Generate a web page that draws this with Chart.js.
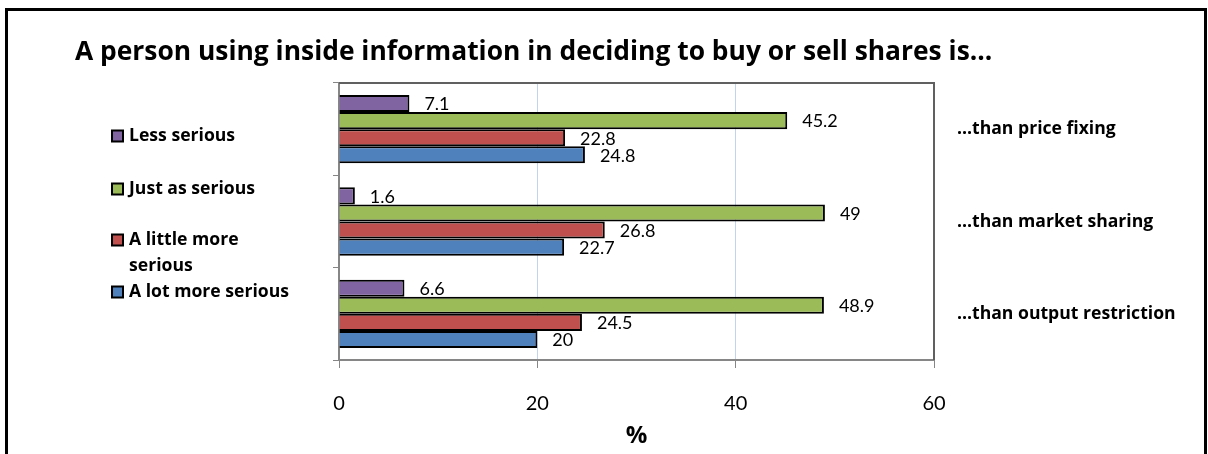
<!DOCTYPE html>
<html>
<head>
    <title>Inside information vs other cartel conduct</title>
    <script src="https://cdn.jsdelivr.net/npm/chart.js"></script>
    <style>
        body { margin: 0; background: #ffffff; }
        #wrap { position: relative; width: 1208px; height: 454px; }
    </style>
</head>
<body>
    <div id="wrap"><canvas id="chart" width="1208" height="454"></canvas></div>
    <script>
        // data
        const titleText = 'A person using inside information in deciding to buy or sell shares is...';
        const categories = ['…than price fixing', '…than market sharing', '…than output restriction'];
        const seriesNames = ['Less serious', 'Just as serious', 'A little more serious', 'A lot more serious'];
        const legendLines = [['Less serious'], ['Just as serious'], ['A little more', 'serious'], ['A lot more serious']];
        const lessSerious = [7.1, 1.6, 6.6];
        const justAsSerious = [45.2, 49, 48.9];
        const littleMoreSerious = [22.8, 26.8, 24.5];
        const lotMoreSerious = [24.8, 22.7, 20];
        const xTicks = [0, 20, 40, 60];
        const axisTitle = '%';

        const colors = ['#8064A2', '#9BBB59', '#C0504D', '#4F81BD'];
        const values = [lessSerious, justAsSerious, littleMoreSerious, lotMoreSerious];
        const FONT = 'Lato, "Open Sans", sans-serif';
        const BOLD = '"Open Sans", Lato, sans-serif';

        // frame, title, legend and value labels drawn on the canvas
        const decor = {
            id: 'decor',
            beforeDraw(chart) {
                const c = chart.ctx;
                c.save();
                c.fillStyle = '#fff';
                c.fillRect(0, 0, chart.width, chart.height);
                c.restore();
            },
            afterDatasetsDraw(chart) {
                const c = chart.ctx;
                const a = chart.chartArea;
                c.save();
                // value labels
                c.font = '18px ' + FONT;
                c.fillStyle = '#000';
                c.textBaseline = 'middle';
                c.textAlign = 'left';
                chart.data.datasets.forEach((ds, i) => {
                    chart.getDatasetMeta(i).data.forEach((bar, j) => {
                        c.fillText(String(ds.data[j]), bar.x + 15, bar.y + 1);
                    });
                });
                // plot border top + right
                c.strokeStyle = '#606060';
                c.lineWidth = 2;
                c.beginPath();
                c.moveTo(a.left, a.top);
                c.lineTo(a.right, a.top);
                c.lineTo(a.right, a.bottom);
                c.stroke();
                c.restore();
            },
            afterDraw(chart) {
                const c = chart.ctx;
                c.save();
                // outer frame
                c.strokeStyle = '#000';
                c.lineWidth = 3;
                c.beginPath();
                c.moveTo(6.5, 460);
                c.lineTo(6.5, 9.5);
                c.lineTo(1205.5, 9.5);
                c.lineTo(1205.5, 460);
                c.stroke();
                // title
                c.fillStyle = '#000';
                c.font = 'bold 26.4px ' + BOLD;
                c.textBaseline = 'middle';
                c.textAlign = 'left';
                c.fillText(titleText, 75, 52);
                // legend
                const rowY = [136, 189, 240, 292];
                c.font = 'bold 17.6px ' + BOLD;
                legendLines.forEach((lines, i) => {
                    c.fillStyle = colors[i];
                    c.fillRect(112, rowY[i] - 5.5, 11, 11);
                    c.strokeStyle = '#000';
                    c.lineWidth = 2;
                    c.strokeRect(112, rowY[i] - 5.5, 11, 11);
                    c.fillStyle = '#000';
                    lines.forEach((t, k) => c.fillText(t, 129, rowY[i] + k * 26));
                });
                c.restore();
            }
        };

        new Chart(document.getElementById('chart'), {
            type: 'bar',
            data: {
                labels: categories,
                datasets: seriesNames.map((name, i) => ({
                    label: name,
                    data: values[i],
                    backgroundColor: colors[i],
                    borderColor: '#000',
                    borderWidth: 2,
                    barPercentage: 1,
                    categoryPercentage: 0.74
                }))
            },
            options: {
                indexAxis: 'y',
                responsive: false,
                animation: false,
                layout: { padding: { top: 83, left: 0, right: 0, bottom: 0 } },
                plugins: {
                    legend: { display: false },
                    tooltip: { enabled: false }
                },
                scales: {
                    x: {
                        min: 0,
                        max: 60,
                        afterBuildTicks: (s) => { s.ticks = xTicks.map(v => ({ value: v })); },
                        afterFit: (s) => { s.height = 94; },
                        grid: { color: '#c3d3ee', tickColor: '#868686', tickLength: 8, lineWidth: 1 },
                        border: { color: '#868686', width: 2 },
                        ticks: { color: '#000', font: { family: FONT, size: 20 }, padding: 24 },
                        title: {
                            display: true,
                            text: axisTitle,
                            color: '#000',
                            font: { family: BOLD, size: 24, weight: 'bold' },
                            padding: { top: 0, bottom: 3 }
                        }
                    },
                    y: {
                        type: 'category',
                        position: 'left',
                        offset: true,
                        afterFit: (s) => { s.width = 339; },
                        grid: { offset: true, drawOnChartArea: false, tickLength: 6, color: '#868686' },
                        border: { color: '#868686', width: 2 },
                        ticks: { display: false }
                    },
                    y2: {
                        type: 'category',
                        position: 'right',
                        labels: categories,
                        offset: true,
                        afterFit: (s) => { s.width = 274; },
                        grid: { display: false, drawTicks: false },
                        border: { display: false },
                        ticks: { color: '#000', font: { family: BOLD, size: 17.6, weight: 'bold' }, padding: 23 }
                    }
                }
            },
            plugins: [decor]
        });
    </script>
</body>
</html>
